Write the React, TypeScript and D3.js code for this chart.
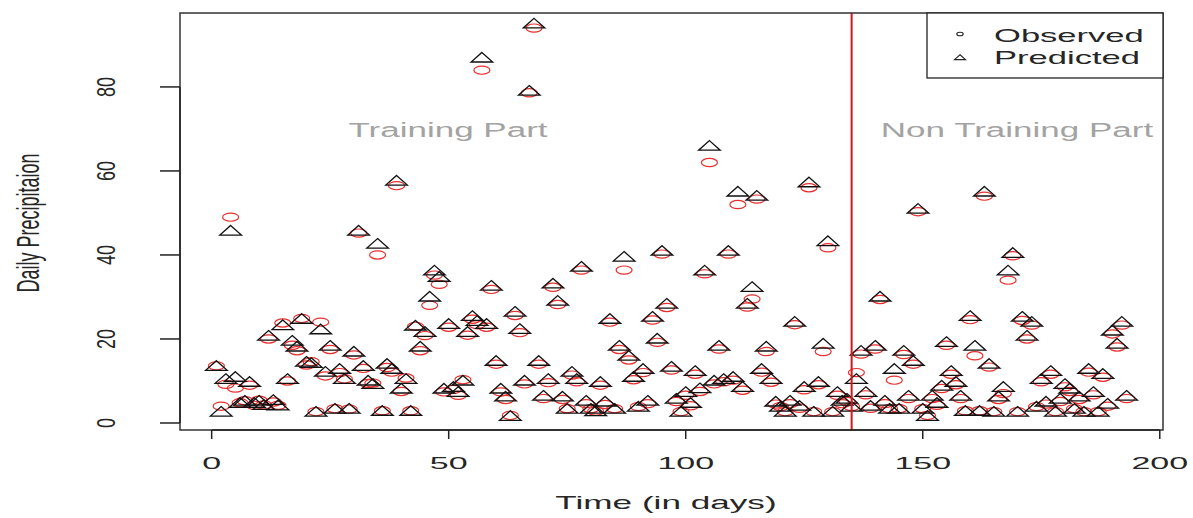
import React from "react";
import * as d3 from "d3";

const predicted = [
  13.3, 2.4, 10.2, 45.5, 10.7, 4.5, 5.0, 9.5, 4.5, 5.0,
  4.0, 20.5, 5.2, 3.9, 23.0, 10.2, 19.3, 17.9, 24.5, 14.3,
  14.0, 2.4, 22.0, 11.9, 18.1, 3.1, 12.6, 10.2, 3.1, 16.7,
  45.5, 13.3, 9.8, 9.0, 42.4, 2.6, 13.8, 12.6, 57.4, 7.9,
  10.2, 2.6, 22.9, 17.9, 21.4, 29.8, 36.0, 34.5, 7.9, 23.3,
  8.3, 7.1, 9.8, 21.4, 25.2, 24.0, 86.7, 23.3, 32.4, 14.5,
  7.9, 6.0, 1.4, 26.2, 22.1, 9.8, 78.8, 94.8, 14.5, 6.2,
  10.2, 32.9, 28.8, 6.0, 3.1, 11.9, 10.2, 36.9, 5.0, 3.1,
  2.5, 9.5, 4.8, 24.5, 3.1, 18.1, 39.3, 15.7, 10.7, 3.6,
  12.6, 5.0, 25.0, 19.8, 40.7, 28.1, 13.1, 5.5, 2.4, 7.1,
  4.5, 12.1, 8.0, 36.0, 65.7, 9.8, 18.1, 10.2, 40.7, 10.7,
  54.8, 8.3, 28.1, 32.1, 53.8, 12.6, 17.9, 10.2, 4.8, 3.6,
  2.4, 5.0, 23.8, 3.8, 8.3, 57.0, 2.4, 9.5, 18.6, 43.0,
  2.4, 7.1, 5.0, 5.5, 3.6, 10.2, 16.9, 7.1, 3.8, 18.1,
  29.8, 5.0, 3.1, 12.6, 3.1, 16.9, 6.2, 14.5, 50.7, 3.1,
  1.4, 6.2, 4.5, 8.6, 19.0, 12.1, 9.5, 6.2, 2.6, 25.2,
  18.1, 2.6, 54.8, 13.8, 2.4, 6.0, 8.3, 36.0, 40.2, 2.4,
  25.0, 20.5, 23.8, 3.6, 10.2, 4.8, 12.1, 2.4, 5.5, 9.0,
  7.9, 3.1, 6.0, 2.4, 12.6, 7.1, 2.4, 11.4, 4.3, 21.7,
  18.6, 23.8, 6.2,
];

const observed = [
  13.6, 4.0, 9.2, 49.0, 8.3, 4.8, 5.3, 9.0, 4.2, 5.4,
  4.3, 20.0, 5.0, 4.2, 23.8, 10.0, 18.5, 17.2, 24.9, 13.8,
  14.6, 2.7, 24.0, 11.2, 17.5, 3.4, 12.0, 10.5, 3.3, 16.2,
  45.2, 13.0, 9.4, 9.5, 40.0, 2.9, 13.2, 12.1, 56.5, 7.5,
  10.7, 2.9, 23.0, 17.2, 20.8, 28.0, 35.2, 33.0, 7.4, 22.8,
  8.0, 6.6, 10.3, 20.9, 24.7, 23.4, 84.0, 22.8, 31.8, 14.0,
  7.4, 5.6, 1.8, 25.6, 21.5, 9.3, 78.6, 94.0, 14.0, 5.8,
  9.6, 32.3, 28.2, 5.6, 3.4, 11.4, 9.8, 36.4, 4.6, 3.4,
  2.8, 9.0, 4.4, 24.0, 3.4, 17.5, 36.4, 15.0, 10.3, 3.9,
  12.0, 4.6, 24.5, 19.2, 40.2, 27.5, 12.6, 5.1, 2.7, 6.6,
  4.1, 11.6, 7.5, 35.5, 62.0, 9.3, 17.6, 9.8, 40.2, 10.2,
  52.0, 7.8, 27.6, 29.5, 53.3, 12.1, 17.0, 9.7, 4.5, 3.9,
  2.7, 4.6, 23.4, 3.5, 7.9, 56.0, 2.7, 9.1, 17.0, 41.7,
  2.7, 6.6, 4.6, 5.1, 3.9, 12.0, 16.4, 6.7, 3.5, 17.6,
  29.4, 4.6, 3.4, 10.2, 3.4, 16.3, 5.8, 14.0, 50.3, 3.4,
  1.8, 5.8, 4.2, 8.2, 18.5, 11.6, 9.1, 5.8, 2.9, 24.6,
  16.0, 2.9, 54.0, 13.3, 2.7, 5.6, 7.0, 34.0, 39.8, 2.7,
  24.4, 20.0, 23.3, 3.9, 9.8, 4.5, 11.6, 2.7, 5.1, 8.6,
  7.5, 3.4, 5.6, 2.7, 12.1, 6.7, 2.7, 10.9, 4.0, 21.2,
  18.1, 23.3, 5.8,
];

const days = predicted.map((_, i) => i + 1);
const xTicks = [0, 50, 100, 150, 200];
const yTicks = [0, 20, 40, 60, 80];
const splitDay = 135;
const legendLabels = ["Observed", "Predicted"];
const partLabels = ["Training Part", "Non Training Part"];

const W = 1193;
const H = 518;
const box = { left: 180, right: 1163, top: 13, bottom: 430 };
const SX = 1.95; // horizontal stretch of the picture
const FONT = "'Liberation Sans', Arial, Helvetica, sans-serif";
const TXT = "#262626";

function triPath(cx: number, cy: number, s: number) {
  const r = 1.5551 * s;
  const xc = 1.3468 * s * SX;
  const yc = 0.7776 * s;
  return `M${cx},${cy - r}L${cx + xc},${cy + yc}L${cx - xc},${cy + yc}Z`;
}

export default function App() {
  const x = d3.scaleLinear().domain([-6.68, 200.68]).range([box.left, box.right]);
  const y = d3.scaleLinear().domain([-1.67, 97.6]).range([box.bottom, box.top]);
  const S = 4.1;
  const splitX = x(splitDay);

  return (
    <svg
      width={W}
      height={H}
      style={{ position: "absolute", left: 0, top: 0, background: "#fff" }}
      fontFamily={FONT}
    >
      <rect x={0} y={0} width={W} height={H} fill="#fff" />
      {/* observed circles */}
      <g fill="none" stroke="#e8302f" strokeWidth={1.2}>
        {days.map((d, i) => (
          <ellipse key={"o" + d} cx={x(d)} cy={y(observed[i])} rx={S * SX} ry={S} />
        ))}
      </g>
      {/* predicted triangles */}
      <g fill="none" stroke="#111" strokeWidth={1.3}>
        {days.map((d, i) => (
          <path key={"p" + d} d={triPath(x(d), y(predicted[i]), S)} />
        ))}
      </g>
      {/* split line */}
      <line x1={splitX} x2={splitX} y1={box.top} y2={box.bottom} stroke="#d8161b" strokeWidth={2} />
      {/* part labels */}
      <g fill="#a3a3a3" fontSize={20} textAnchor="middle">
        <text transform={`translate(448,137) scale(1.75,1)`}>{partLabels[0]}</text>
        <text transform={`translate(1017,137) scale(1.75,1)`}>{partLabels[1]}</text>
      </g>
      {/* box */}
      <rect
        x={box.left}
        y={box.top}
        width={box.right - box.left}
        height={box.bottom - box.top}
        fill="none"
        stroke="#333"
        strokeWidth={1.5}
      />
      {/* x axis */}
      <g stroke="#222" strokeWidth={1.5}>
        <line x1={x(0)} x2={x(200)} y1={box.bottom} y2={box.bottom} />
        {xTicks.map((t) => (
          <line key={t} x1={x(t)} x2={x(t)} y1={box.bottom} y2={box.bottom + 9} />
        ))}
      </g>
      <g fill={TXT} textAnchor="middle">
        {xTicks.map((t) => (
          <text key={t} fontSize={17} transform={`translate(${x(t)},469) scale(2.0,1)`}>{t}</text>
        ))}
        <text fontSize={18.5} transform={`translate(666,509) scale(1.9,1)`}>Time (in days)</text>
      </g>
      {/* y axis */}
      <g stroke="#222" strokeWidth={1.5}>
        <line x1={box.left} x2={box.left} y1={y(0)} y2={y(80)} />
        {yTicks.map((t) => (
          <line key={t} x1={box.left - 20} x2={box.left} y1={y(t)} y2={y(t)} />
        ))}
      </g>
      <g fill={TXT} fontSize={18} textAnchor="middle">
        {yTicks.map((t) => (
          <text key={t} transform={`translate(115,${y(t)}) scale(1.4,1) rotate(-90)`}>{t}</text>
        ))}
        <text transform={`translate(39,223) scale(1.7,1) rotate(-90)`}>Daily Precipitaion</text>
      </g>
      {/* legend */}
      <rect x={927} y={13} width={1163 - 927} height={65} fill="#fff" stroke="#222" strokeWidth={1.3} />
      <ellipse cx={960} cy={34} rx={3.2} ry={1.8} fill="none" stroke="#222" strokeWidth={1.1} />
      <path d={triPath(960, 58, 2.1)} fill="none" stroke="#222" strokeWidth={1.1} />
      <g fill={TXT} fontSize={18}>
        <text transform={`translate(994,42) scale(1.92,1)`}>{legendLabels[0]}</text>
        <text transform={`translate(994,64) scale(1.92,1)`}>{legendLabels[1]}</text>
      </g>
    </svg>
  );
}
